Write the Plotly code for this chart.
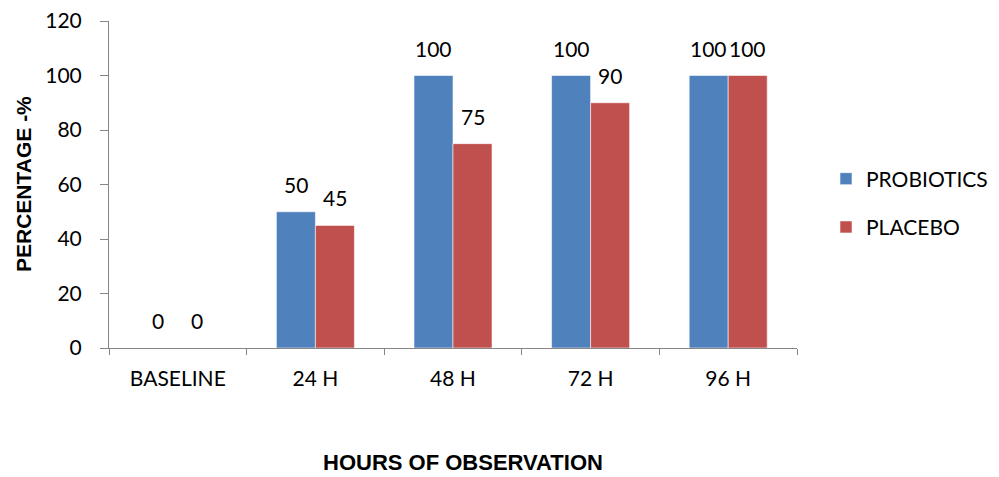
import plotly.graph_objects as go

# Observation time points and results per group
categories = ["BASELINE", "24 H", "48 H", "72 H", "96 H"]
probiotics = [0, 50, 100, 100, 100]
placebo = [0, 45, 75, 90, 100]

BLUE = "#4F81BD"
RED = "#C0504D"
AXIS_GRAY = "#868686"
BODY_FONT = "Lato, Calibri, Carlito, sans-serif"
TITLE_FONT = "Liberation Sans, Arial, sans-serif"
BODY_SIZE = 21

W, H = 999, 477
L, R, T, B = 109, 202, 21, 129
pw, ph = W - L - R, H - T - B


def px_to_paper(x, y):
    return (x - L) / pw, (H - B - y) / ph


fig = go.Figure()
for name, vals, color in [("PROBIOTICS", probiotics, BLUE), ("PLACEBO", placebo, RED)]:
    fig.add_trace(go.Bar(
        name=name, x=categories, y=vals,
        marker=dict(color=color, line=dict(color="rgba(255,255,255,0.7)", width=0.8)),
        legendgroup=name,
    ))

# Value labels above each bar (two bars per group, offset half a bar width)
bar_px = 39
annotations = []
for vals, shift in [(probiotics, -bar_px / 2), (placebo, bar_px / 2)]:
    for cat, v in zip(categories, vals):
        annotations.append(dict(
            x=cat, y=v, xref="x", yref="y", text=str(v), showarrow=False,
            xshift=shift, yanchor="bottom", yshift=13,
            font=dict(family=BODY_FONT, size=BODY_SIZE, color="black"),
        ))

# Axis titles
yx, yy = px_to_paper(23, 184)
annotations.append(dict(
    x=yx, y=yy, xref="paper", yref="paper", text="<b>PERCENTAGE -%</b>", showarrow=False,
    xanchor="center", yanchor="middle", textangle=-90,
    font=dict(family=TITLE_FONT, size=21, color="black"),
))
xx, xy = px_to_paper(463, 462)
annotations.append(dict(
    x=xx, y=xy, xref="paper", yref="paper", text="<b>HOURS OF OBSERVATION</b>", showarrow=False,
    xanchor="center", yanchor="middle",
    font=dict(family=TITLE_FONT, size=22, color="black"),
))

lx, ly = px_to_paper(826, 203)
fig.update_layout(
    width=W, height=H,
    margin=dict(l=L, r=R, t=T, b=B, autoexpand=False),
    paper_bgcolor="white", plot_bgcolor="white",
    barmode="group", bargap=0.433, bargroupgap=0,
    font=dict(family=BODY_FONT, size=BODY_SIZE, color="black"),
    showlegend=True,
    legend=dict(
        x=lx, y=ly, xanchor="left", yanchor="middle",
        font=dict(family=BODY_FONT, size=BODY_SIZE, color="black"),
        traceorder="grouped", tracegroupgap=18,
        itemwidth=30,
    ),
    annotations=annotations,
)
fig.update_xaxes(
    type="category", showline=True, linecolor=AXIS_GRAY, linewidth=1,
    ticks="outside", tickson="boundaries", ticklen=6, tickcolor=AXIS_GRAY,
    ticklabelstandoff=12, showgrid=False,
    tickfont=dict(family=BODY_FONT, size=BODY_SIZE, color="black"),
)
fig.update_yaxes(
    range=[0, 120], dtick=20, showline=True, linecolor=AXIS_GRAY, linewidth=1,
    ticks="outside", ticklen=8, tickcolor=AXIS_GRAY, showgrid=False, zeroline=False,
    ticklabelstandoff=14,
    tickfont=dict(family=BODY_FONT, size=BODY_SIZE, color="black"),
)

fig.write_html("out.html")
